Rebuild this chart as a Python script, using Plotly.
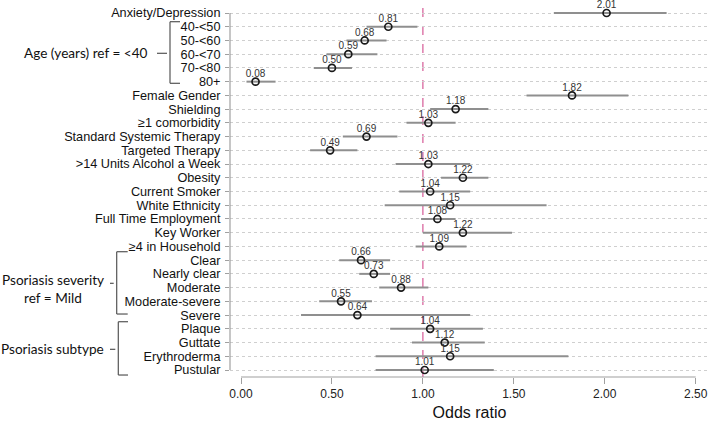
import plotly.graph_objects as go

labels = ["Anxiety/Depression", "40-<50", "50-<60", "60-<70", "70-<80", "80+",
          "Female Gender", "Shielding", "≥1 comorbidity", "Standard Systemic Therapy",
          "Targeted Therapy", ">14 Units Alcohol a Week", "Obesity", "Current Smoker",
          "White Ethnicity", "Full Time Employment", "Key Worker", "≥4 in Household",
          "Clear", "Nearly clear", "Moderate", "Moderate-severe", "Severe",
          "Plaque", "Guttate", "Erythroderma", "Pustular"]
odds = [2.01, 0.81, 0.68, 0.59, 0.50, 0.08, 1.82, 1.18, 1.03, 0.69, 0.49, 1.03, 1.22,
        1.04, 1.15, 1.08, 1.22, 1.09, 0.66, 0.73, 0.88, 0.55, 0.64, 1.04, 1.12, 1.15, 1.01]
ci_low = [1.72, 0.69, 0.58, 0.47, 0.40, 0.03, 1.57, 1.04, 0.91, 0.56, 0.38, 0.85, 1.10,
          0.87, 0.79, 0.99, 1.00, 0.96, 0.54, 0.65, 0.76, 0.43, 0.33, 0.82, 0.94, 0.74, 0.74]
ci_high = [2.34, 0.97, 0.80, 0.75, 0.61, 0.19, 2.13, 1.36, 1.18, 0.86, 0.64, 1.26, 1.36,
           1.26, 1.68, 1.18, 1.49, 1.24, 0.82, 0.82, 1.03, 0.72, 1.26, 1.33, 1.34, 1.80, 1.39]
x_ticks = [0.0, 0.5, 1.0, 1.5, 2.0, 2.5]
x_tick_text = ["0.00", "0.50", "1.00", "1.50", "2.00", "2.50"]
reference_or = 1.0

W, H = 709, 421
L, R, T, B = 230, 0, 4, 44
rows = list(range(len(labels)))
row0_px, row_step = 13.0, 13.73
label_lift = 7.2 / row_step  # value labels sit just above their point


def px_x(px):
    return (px - L) / (W - L - R)


def px_row(py):
    return (py - row0_px) / row_step


err_plus = [h - o for h, o in zip(ci_high, odds)]
err_minus = [o - l for o, l in zip(odds, ci_low)]

fig = go.Figure()
fig.add_trace(go.Scatter(
    x=odds, y=rows, mode="markers",
    marker=dict(symbol="circle-open", size=7, color="#1a1a1a", line=dict(width=1.7)),
    error_x=dict(type="data", symmetric=False, array=err_plus, arrayminus=err_minus,
                 color="#8f8f8f", thickness=2, width=0),
    cliponaxis=False, showlegend=False, hoverinfo="skip"))
fig.add_trace(go.Scatter(
    x=odds, y=[r - label_lift for r in rows], mode="text",
    text=[f"{v:.2f}" for v in odds], textposition="middle center",
    textfont=dict(family="Liberation Sans, Arial", size=10, color="#333333"),
    cliponaxis=False, showlegend=False, hoverinfo="skip"))

shapes = []
shapes.append(dict(type="line", xref="x", yref="paper", x0=reference_or, x1=reference_or,
                   y0=0, y1=1, line=dict(color="#d9679f", width=1.3, dash="dash"), layer="below"))
shapes.append(dict(type="line", xref="x", yref="paper", x0=x_ticks[0], x1=x_ticks[-1],
                   y0=0, y1=0, line=dict(color="#a0a0a0", width=1.2)))
shapes.append(dict(type="line", xref="paper", yref="y", x0=0, x1=0, y0=rows[0], y1=rows[-1],
                   line=dict(color="#a0a0a0", width=1.2)))

bcol = dict(color="#555555", width=1.2)


def bracket(xv, xr, ytop, ybot, dash_x0, dash_y):
    out = []
    out.append(dict(type="line", xref="paper", yref="y", x0=px_x(xv), x1=px_x(xv),
                    y0=px_row(ytop), y1=px_row(ybot), line=bcol))
    out.append(dict(type="line", xref="paper", yref="y", x0=px_x(xv), x1=px_x(xr),
                    y0=px_row(ytop), y1=px_row(ytop), line=bcol))
    out.append(dict(type="line", xref="paper", yref="y", x0=px_x(xv), x1=px_x(xr),
                    y0=px_row(ybot), y1=px_row(ybot), line=bcol))
    out.append(dict(type="line", xref="paper", yref="y", x0=px_x(dash_x0), x1=px_x(xv - 3),
                    y0=px_row(dash_y), y1=px_row(dash_y), line=bcol))
    return out


shapes += bracket(170, 180, 21.7, 83.3, 157, 53.3)
shapes += bracket(116.7, 127.7, 251.7, 314, 110, 283.3)
shapes += bracket(118.3, 128, 321.7, 375, 110, 349.3)

gfont = dict(family="Lato, Noto Sans", size=13.6, color="#111111")
annotations = [
    dict(text="Age (years) ref = <40", xref="paper", yref="y", x=px_x(150), y=px_row(53.3),
         xanchor="right", yanchor="middle", showarrow=False, font=gfont),
    dict(text="Psoriasis severity", xref="paper", yref="y", x=px_x(53), y=px_row(280),
         xanchor="center", yanchor="middle", showarrow=False, font=gfont),
    dict(text="ref = Mild", xref="paper", yref="y", x=px_x(53), y=px_row(297.5),
         xanchor="center", yanchor="middle", showarrow=False, font=gfont),
    dict(text="Psoriasis subtype", xref="paper", yref="y", x=px_x(52), y=px_row(349.3),
         xanchor="center", yanchor="middle", showarrow=False, font=gfont),
]

fig.update_layout(
    width=W, height=H, margin=dict(l=L, r=R, t=T, b=B, autoexpand=False),
    paper_bgcolor="white", plot_bgcolor="white",
    shapes=shapes, annotations=annotations,
    xaxis=dict(range=[(L - 241) / 181.88, (W - R - 241) / 181.88],
               tickvals=x_ticks, ticktext=x_tick_text, ticks="outside", ticklen=6,
               tickcolor="#a0a0a0", tickwidth=1.2, showgrid=False, zeroline=False,
               showline=False,
               tickfont=dict(family="Liberation Sans, Arial", size=12, color="#222222"),
               title=dict(text="Odds ratio", standoff=7,
                          font=dict(family="Liberation Sans, Arial", size=16, color="#111111"))),
    yaxis=dict(range=[26 + 7 / row_step, -9 / row_step], tickvals=rows, ticktext=labels,
               ticks="outside", ticklen=4, tickcolor="#a0a0a0", tickwidth=1.2,
               ticklabelstandoff=2,
               showgrid=True, gridcolor="#cfcfcf", griddash="dot", gridwidth=1,
               zeroline=False, showline=False,
               tickfont=dict(family="Liberation Sans, Arial", size=12.7, color="#111111")),
)

fig.write_html("out.html", config={"displayModeBar": False},
               post_script="document.body.style.margin='0';document.body.style.overflow='hidden';")
